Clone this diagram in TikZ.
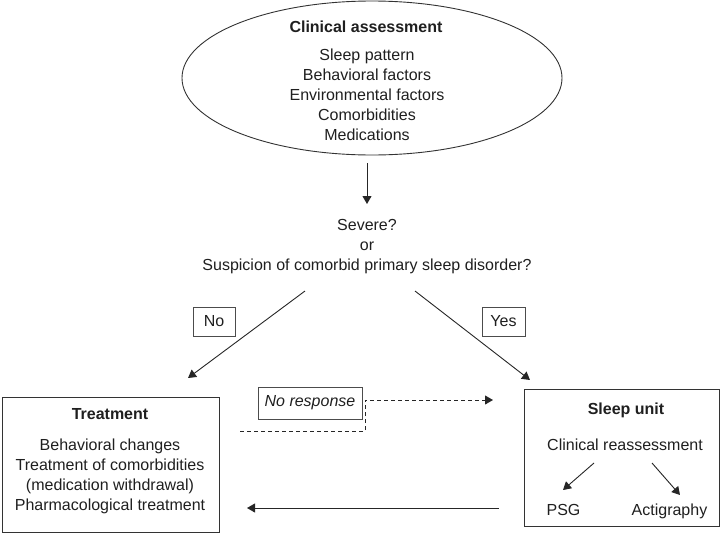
\documentclass[tikz,border=0pt]{standalone}
\usepackage{fontspec}
\setmainfont{Liberation Sans}
\usetikzlibrary{arrows.meta,shapes.geometric}
\begin{document}
\begin{tikzpicture}[x=1pt,y=-1pt,line width=0.9pt,
  txt/.style={font=\fontsize{16}{19}\selectfont,anchor=base,inner sep=0pt,text=black!88},
  ttl/.style={font=\fontsize{16}{19}\selectfont\bfseries,anchor=base,inner sep=0pt,text=black!88},
  arr/.style={draw=black!85,-{Triangle[length=8pt,width=9pt]}},
  frame/.style={draw=black!80,line width=0.9pt},
  lbl/.style={draw=black!70,line width=0.9pt,font=\fontsize{16}{19}\selectfont,text=black!88,inner sep=0pt}]
\path[use as bounding box] (0,0) rectangle (721,533);

% Clinical assessment ellipse
\node[ellipse,frame,minimum width=380pt,minimum height=154pt,inner sep=0pt] (ca) at (372,78) {};
\node[ttl] (cat) at (366,32) {Clinical assessment};
\node[txt] (ca1) at (367,60) {Sleep pattern};
\node[txt] (ca2) at (367,80.2) {Behavioral factors};
\node[txt] (ca3) at (367,100.4) {Environmental factors};
\node[txt] (ca4) at (367,120.6) {Comorbidities};
\node[txt] (ca5) at (367,140.8) {Medications};

% question
\node[txt] (q1) at (367,230) {Severe?};
\node[txt] (q2) at (367,250) {or};
\node[txt] (q3) at (367,270) {Suspicion of comorbid primary sleep disorder?};

\coordinate (a1s) at (367,163);
\coordinate (a1e) at (367,204);
\draw[arr] (a1s) -- (a1e);

% branches
\coordinate (noS) at (305,291);
\coordinate (noE) at (188,378);
\coordinate (yesS) at (415,291);
\coordinate (yesE) at (530,380);
\draw[arr] (noS) -- (noE);
\draw[arr] (yesS) -- (yesE);
\node[lbl,minimum width=42pt,minimum height=29pt] (no) at (214,321.5) {No};
\node[lbl,minimum width=43pt,minimum height=29pt] (yes) at (503.5,321.5) {Yes};

% Treatment box
\draw[frame] (2,397) rectangle (219,532);
\node[ttl] (tt) at (110,419) {Treatment};
\node[txt] (t1) at (110,450) {Behavioral changes};
\node[txt] (t2) at (110,470) {Treatment of comorbidities};
\node[txt] (t3) at (110,490) {(medication withdrawal)};
\node[txt] (t4) at (110,510) {Pharmacological treatment};

% Sleep unit box
\draw[frame] (524,389) rectangle (719.5,526);
\node[ttl] (su) at (626,414) {Sleep unit};
\node[txt] (cr) at (625,450) {Clinical reassessment};
\node[txt] (psg) at (563.5,515) {PSG};
\node[txt] (act) at (669.5,515) {Actigraphy};
\coordinate (p1) at (594,463);
\coordinate (p2) at (563,490);
\coordinate (q1s) at (652,463);
\coordinate (q1e) at (680,495);
\draw[arr] (p1) -- (p2);
\draw[arr] (q1s) -- (q1e);

% No response
\node[lbl,minimum width=104pt,minimum height=32pt,font=\fontsize{16}{19}\selectfont\itshape] (nr) at (310,403) {No response};
\coordinate (d1) at (240,431);
\coordinate (d2) at (365,431);
\coordinate (d3) at (365,400);
\coordinate (d4) at (493,400);
\draw[arr,dash pattern=on 4pt off 3pt] (d1) -- (d2) -- (d3) -- (d4);

% back arrow
\coordinate (b1) at (499,508);
\coordinate (b2) at (247,508);
\draw[arr] (b1) -- (b2);
\end{tikzpicture}
\end{document}
